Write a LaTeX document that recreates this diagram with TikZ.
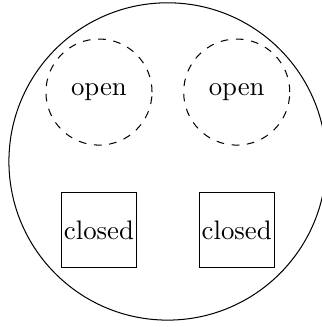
\documentclass[tikz,border=0pt]{standalone}
\usetikzlibrary{positioning}

\begin{document}
\begin{tikzpicture}[
  node distance=12pt,
  font=\fontsize{10.5}{12.6}\selectfont,
  region/.style={circle, draw, minimum size=124.4pt, inner sep=0pt},
  openset/.style={circle, draw, dashed, minimum size=41.6pt, inner sep=0pt},
  closedset/.style={rectangle, draw, minimum size=29.4pt, inner sep=0pt},
]
\useasboundingbox (0,0) rectangle (125.9pt,-128.2pt);
\node[region] (space) at (65.7pt,-63.3pt) {};
\node[openset] (open1) at (38.8pt,-36.1pt) {open};
\node[openset, right=of open1] (open2) {open};
\node[closedset] (closed1) at (38.8pt,-90.2pt) {closed};
\node[closedset] (closed2) at (open2 |- closed1) {closed};
\end{tikzpicture}
\end{document}
